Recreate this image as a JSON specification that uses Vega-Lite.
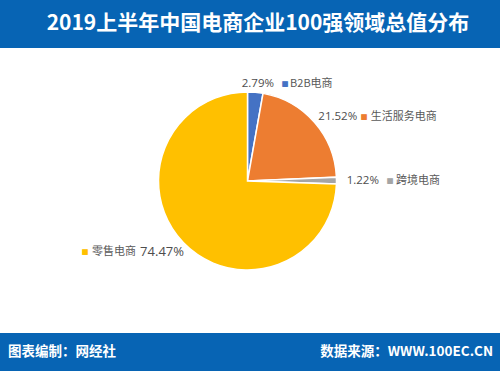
{
  "$schema": "https://vega.github.io/schema/vega-lite/v6.json",
  "padding": 0,
  "background": "white",
  "spacing": 19,
  "config": {"view": {"stroke": null}},
  "vconcat": [
    {
      "spacing": 0,
      "vconcat": [
        {
          "width": 500,
          "height": 48,
          "view": {"fill": "#0764B4", "stroke": null},
          "data": {"values": [{"t": "2019上半年中国电商企业100强领域总值分布"}]},
          "mark": {"type": "text", "color": "white", "font": "Noto Sans CJK SC", "fontWeight": "bold", "fontSize": 21, "letterSpacing": 2.3, "dx": 8, "baseline": "middle", "align": "center"},
          "encoding": {"text": {"field": "t", "type": "nominal"}}
        },
        {
          "width": 495,
          "height": 266,
          "data": {"values": [
            {"name": "B2B电商", "v": 0.0279},
            {"name": "生活服务电商", "v": 0.2152},
            {"name": "跨境电商", "v": 0.0122},
            {"name": "零售电商", "v": 0.7447}
          ]},
          "layer": [
            {
              "mark": {"type": "arc", "outerRadius": 89, "stroke": "white", "strokeWidth": 1.5},
              "encoding": {
                "theta": {"field": "v", "type": "quantitative", "stack": true},
                "order": {"field": "name", "type": "nominal", "sort": "ascending"},
                "color": {"field": "name", "type": "nominal", "legend": null,
                  "scale": {"domain": ["B2B电商", "生活服务电商", "跨境电商", "零售电商"], "range": ["#4472C4", "#ED7D31", "#A5A5A5", "#FFC000"]}}
              }
            },
            {
              "mark": {"type": "text", "radius": 100, "align": "left", "baseline": "middle", "font": "Open Sans", "color": "#4D4D4D",
                "fontSize": {"expr": "datum.name==='零售电商'?13:11.5"},
                "dx": {"expr": "datum.name==='B2B电商'?-14.5:datum.name==='生活服务电商'?-4.4:datum.name==='跨境电商'?-0.8:-35.5"},
                "dy": {"expr": "datum.name==='B2B电商'?3:datum.name==='生活服务电商'?1.6:datum.name==='跨境电商'?0.3:1.2"}},
              "encoding": {
                "theta": {"field": "v", "type": "quantitative", "stack": true},
                "order": {"field": "name", "type": "nominal", "sort": "ascending"},
                "detail": {"field": "name", "type": "nominal"},
                "text": {"field": "v", "type": "quantitative", "format": ".2%"}
              }
            },
            {
              "mark": {"type": "text", "radius": 100, "align": "left", "baseline": "middle", "font": "Noto Sans CJK SC", "fontSize": 11, "color": "#595959",
                "dx": {"expr": "datum.name==='B2B电商'?33.8:datum.name==='生活服务电商'?48:datum.name==='跨境电商'?48.5:-83.5"},
                "dy": {"expr": "datum.name==='B2B电商'?3:datum.name==='生活服务电商'?1.6:datum.name==='跨境电商'?0.5:1.2"}},
              "encoding": {
                "theta": {"field": "v", "type": "quantitative", "stack": true},
                "order": {"field": "name", "type": "nominal", "sort": "ascending"},
                "detail": {"field": "name", "type": "nominal"},
                "text": {"field": "name", "type": "nominal"}
              }
            },
            {
              "mark": {"type": "text", "radius": 100, "align": "center", "baseline": "middle", "font": "DejaVu Sans", "fontSize": 7.5,
                "dx": {"expr": "datum.name==='B2B电商'?28.8:datum.name==='生活服务电商'?41.3:datum.name==='跨境电商'?42.5:-90.6"},
                "dy": {"expr": "datum.name==='B2B电商'?3:datum.name==='生活服务电商'?1.9:datum.name==='跨境电商'?0.5:1.2"},
                "text": "■"},
              "encoding": {
                "theta": {"field": "v", "type": "quantitative", "stack": true},
                "order": {"field": "name", "type": "nominal", "sort": "ascending"},
                "color": {"field": "name", "type": "nominal", "legend": null,
                  "scale": {"domain": ["B2B电商", "生活服务电商", "跨境电商", "零售电商"], "range": ["#4472C4", "#ED7D31", "#A5A5A5", "#FFC000"]}}
              }
            }
          ]
        }
      ]
    },
    {
      "width": 500,
      "height": 38,
      "view": {"fill": "#0764B4", "stroke": null},
      "data": {"values": [
        {"side": "left", "t": "图表编制：网经社"},
        {"side": "right", "t": "数据来源：WWW.100EC.CN"}
      ]},
      "mark": {"type": "text", "color": "white", "font": "Noto Sans CJK SC", "fontWeight": "bold", "fontSize": 13.5, "baseline": "middle",
        "align": {"expr": "datum.side==='left'?'left':'right'"},
        "dx": {"expr": "datum.side==='left'?8:-7"}},
      "encoding": {
        "x": {"field": "side", "type": "nominal", "axis": null, "scale": {"type": "point", "padding": 0}},
        "text": {"field": "t", "type": "nominal"}
      }
    }
  ]
}
